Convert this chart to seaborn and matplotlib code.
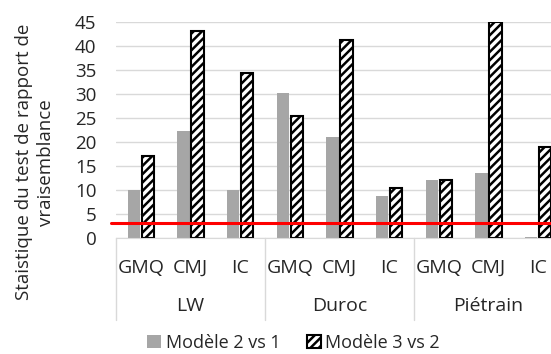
#Statistique LRT par race et caractere
import pandas as pd
import matplotlib.pyplot as plt
import seaborn as sns
from matplotlib.patches import Patch
from matplotlib.lines import Line2D

races = ["LW", "Duroc", "Piétrain"]
caracteres = ["GMQ", "CMJ", "IC"]
modele_2_vs_1 = [10.0, 22.3, 10.0, 30.3, 21.0, 8.7, 12.0, 13.6, 0.2]
modele_3_vs_2 = [17.1, 43.2, 34.4, 25.4, 41.3, 10.5, 12.1, 45.0, 19.0]
seuil = 3.2

sns.set_style("white")
plt.rcParams['font.family'] = ['Open Sans', 'DejaVu Sans']
plt.rcParams['hatch.linewidth'] = 1.8

cles = [r + "_" + c for r in races for c in caracteres]
data = pd.DataFrame({
    "cle": cles * 2,
    "modele": ["Modèle 2 vs 1"] * 9 + ["Modèle 3 vs 2"] * 9,
    "valeur": modele_2_vs_1 + modele_3_vs_2,
})

fig = plt.figure(figsize=(5.51, 3.54), dpi=100)
ax = fig.add_axes([116 / 551, 1 - 238 / 354, 447 / 551, 216 / 354])
sns.barplot(data=data, x="cle", y="valeur", hue="modele", order=cles,
            palette=["#a6a6a6", "white"], width=0.56, gap=0.12,
            legend=False, ax=ax)

for p in ax.containers[0]:
    p.set_edgecolor("none")
for p in ax.containers[1]:
    p.set_edgecolor("black")
    p.set_linewidth(1.5)
    p.set_hatch("////")

ax.set_ylim(0, 45)
ax.set_xlim(-0.5, 8.5)
ax.set_yticks(range(0, 46, 5))
ax.tick_params(axis="y", labelsize=13.5, length=0, pad=14)
ax.yaxis.grid(True, color="#d9d9d9", lw=1)
ax.set_axisbelow(True)
for s in ["top", "right", "left"]:
    ax.spines[s].set_visible(False)
ax.spines["bottom"].set_color("#d9d9d9")

ax.set_xticks(range(9))
ax.set_xticklabels(caracteres * 3, fontsize=14)
ax.tick_params(axis="x", length=0, pad=15)
ax.set_xlabel("")
ax.set_ylabel("")
fig.text(35 / 551, 0.542, "Staistique du test de rapport de\nvraisemblance", rotation=90,
         ha="center", va="center", fontsize=13.5, linespacing=1.35)

# ligne rouge seuil
ax.add_line(Line2D([-0.6, 8.5], [seuil, seuil], color="red", lw=2.2, clip_on=False, zorder=5))

# axe categoriel a deux niveaux
trans = ax.get_xaxis_transform()
for i in range(4):
    ax.add_line(Line2D([i * 3 - 0.5, i * 3 - 0.5], [0, -0.38], color="#d9d9d9", lw=1,
                       transform=trans, clip_on=False))
for i, r in enumerate(races):
    ax.text(i * 3 + 1, -0.315, r, transform=trans, ha="center", va="center", fontsize=14)

handles = [Patch(facecolor="#a6a6a6", edgecolor="none", label="Modèle 2 vs 1"),
           Patch(facecolor="white", edgecolor="black", hatch="////", lw=1.5, label="Modèle 3 vs 2")]
fig.legend(handles=handles, loc="center", bbox_to_anchor=(0.533, 0.032), ncol=2, frameon=False,
           fontsize=13, handlelength=0.75, handleheight=0.75, handletextpad=0.25, columnspacing=1.5,
           borderpad=0.1)

plt.savefig("out.png", dpi=100)
